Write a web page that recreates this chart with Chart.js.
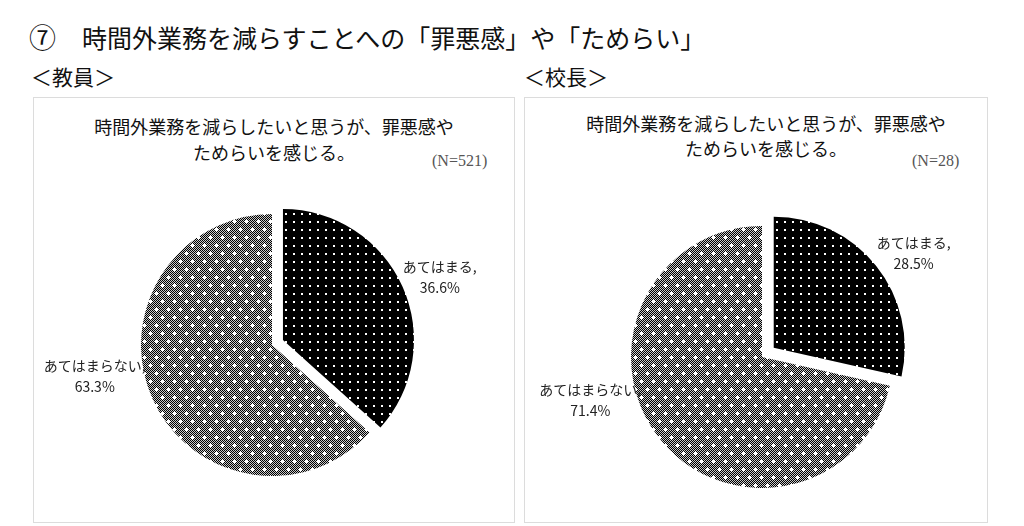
<!DOCTYPE html>
<html lang="ja">
<head>
<meta charset="utf-8">
<title>時間外業務を減らすことへの「罪悪感」や「ためらい」</title>
<script src="https://cdn.jsdelivr.net/npm/chart.js@4.4.1/dist/chart.umd.min.js"></script>
<style>
  html, body { margin: 0; padding: 0; background: #fff; }
  body {
    width: 1024px; height: 526px; position: relative; overflow: hidden;
    font-family: "Noto Sans CJK JP", sans-serif; color: #111;
  }
  .abs { position: absolute; white-space: nowrap; }
  .box { position: absolute; box-sizing: border-box; border: 1px solid #dcdcdc; }
  .main { top: 22px; font-size: 25px; line-height: 30px; }
  .group { top: 63px; font-size: 21px; line-height: 26px; }
  .heading { font-size: 18px; text-align: center; color: #111; }
  .n { top: 152px; font-family: "Liberation Serif", serif; font-size: 16px; line-height: 18px; color: #555; }
  canvas { position: absolute; }
</style>
</head>
<body>

<div class="abs main" style="left:29px; font-size:27px">⑦</div>
<div class="abs main" style="left:82px">時間外業務を減らすことへの「罪悪感」や「ためらい」</div>
<div class="abs group" style="left:31px">＜教員＞</div>
<div class="abs group" style="left:524px">＜校長＞</div>

<div class="box" style="left:33px; top:97px; width:482px; height:426px"></div>
<div class="box" style="left:524px; top:97px; width:464px; height:426px"></div>

<div class="abs heading" style="left:34px; top:113px; width:480px; line-height:26px">
  時間外業務を減らしたいと思うが、罪悪感や<br>ためらいを感じる。
</div>
<div class="abs heading" style="left:535px; top:111px; width:462px; line-height:25px">
  時間外業務を減らしたいと思うが、罪悪感や<br>ためらいを感じる。
</div>
<div class="abs n" id="nTeacher" style="left:432px"></div>
<div class="abs n" id="nPrincipal" style="left:912px"></div>

<canvas id="teacherPie" width="480" height="424" style="left:34px; top:98px"></canvas>
<canvas id="principalPie" width="462" height="424" style="left:525px; top:98px"></canvas>

<script>
// Answers and shares (%)
const categories = ['あてはまる', 'あてはまらない'];
const teacherValues = [36.6, 63.3];
const principalValues = [28.5, 71.4];
const teacherN = 521;
const principalN = 28;

document.getElementById('nTeacher').textContent = `(N=${teacherN})`;
document.getElementById('nPrincipal').textContent = `(N=${principalN})`;

// Black with white dots
function dotPattern() {
    const c = document.createElement('canvas');
    c.width = 8;
    c.height = 8;
    const g = c.getContext('2d');
    g.fillStyle = '#000';
    g.fillRect(0, 0, 8, 8);
    g.fillStyle = '#fff';
    g.fillRect(3, 3, 2, 2);
    return g.createPattern(c, 'repeat');
}

// Fine checker with white crosses
function checkerPattern() {
    const c = document.createElement('canvas');
    c.width = 12;
    c.height = 16;
    const g = c.getContext('2d');
    for (let y = 0; y < 16; y++) {
        for (let x = 0; x < 12; x++) {
            g.fillStyle = (x + y) % 2 === 0 ? '#000' : '#c8c8c8';
            g.fillRect(x, y, 1, 1);
        }
    }
    g.fillStyle = '#fff';
    [[2, 3], [8, 11]].forEach(([x, y]) => {
        g.fillRect(x - 1, y - 1, 3, 3);
        g.fillRect(x - 2, y, 5, 1);
        g.fillRect(x, y - 2, 1, 5);
    });
    return g.createPattern(c, 'repeat');
}

// Pull slices out of the pie by a number of pixels along their middle angle
const explode = {
    id: 'explode',
    afterDatasetUpdate(chart, args, opts) {
        const arcs = chart.getDatasetMeta(args.index).data;
        arcs.forEach((arc, i) => {
            const d = (opts.shift || [])[i] || 0;
            if (!d) return;
            const mid = (arc.startAngle + arc.endAngle) / 2;
            arc.x += Math.cos(mid) * d;
            arc.y += Math.sin(mid) * d;
        });
    }
};

// Two-line labels "category," / "value%" placed around the pie centre
const sliceLabels = {
    id: 'sliceLabels',
    afterDatasetsDraw(chart, args, opts) {
        const { ctx, chartArea } = chart;
        const cx = (chartArea.left + chartArea.right) / 2;
        const cy = (chartArea.top + chartArea.bottom) / 2;
        const values = chart.data.datasets[0].data;
        ctx.save();
        ctx.font = opts.font;
        ctx.fillStyle = opts.color;
        ctx.textAlign = 'center';
        ctx.textBaseline = 'middle';
        chart.getDatasetMeta(0).data.forEach((arc, i) => {
            const spot = opts.spots[i];
            const a = spot.angle * Math.PI / 180;
            const x = cx + Math.sin(a) * spot.dist;
            const y = cy - Math.cos(a) * spot.dist;
            ctx.fillText(chart.data.labels[i] + ',', x, y - opts.lineHeight / 2);
            ctx.fillText(values[i].toFixed(1) + '%', x, y + opts.lineHeight / 2);
        });
        ctx.restore();
    }
};

function makePie(canvasId, values, padding, shift, spots) {
    const ctx = document.getElementById(canvasId).getContext('2d');
    return new Chart(ctx, {
        type: 'pie',
        data: {
            labels: categories,
            datasets: [{
                data: values,
                backgroundColor: [dotPattern(), checkerPattern()],
                borderWidth: 0
            }]
        },
        options: {
            responsive: false,
            animation: false,
            radius: 131,
            layout: { padding: padding },
            events: [],
            plugins: {
                legend: { display: false },
                tooltip: { enabled: false },
                explode: { shift: shift },
                sliceLabels: {
                    font: '14px "Noto Sans CJK JP", sans-serif',
                    color: '#222',
                    lineHeight: 21,
                    spots: spots
                }
            }
        },
        plugins: [explode, sliceLabels]
    });
}

makePie('teacherPie', teacherValues,
    { left: 0, right: 4, top: 70, bottom: 0 },
    [12, 0],
    [{ angle: 68, dist: 181 }, { angle: 260, dist: 180 }]);

makePie('principalPie', principalValues,
    { left: 12, right: 0, top: 94, bottom: 0 },
    [15, 0],
    [{ angle: 55.5, dist: 184 }, { angle: 256, dist: 177 }]);
</script>
</body>
</html>
